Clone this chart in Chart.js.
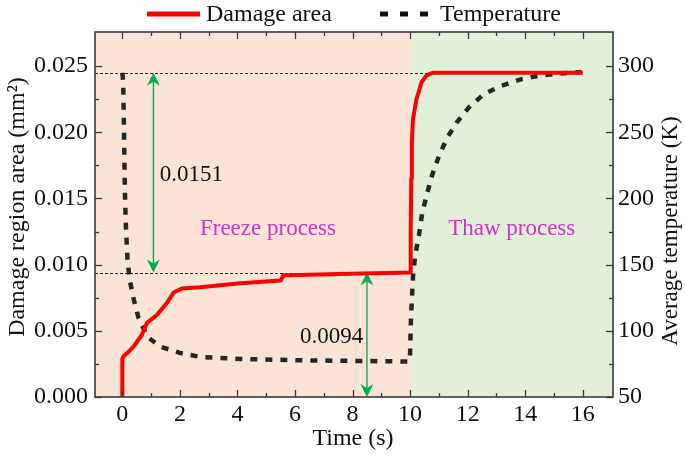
<!DOCTYPE html>
<html><head><meta charset="utf-8">
<script src="https://cdn.jsdelivr.net/npm/chart.js@4.4.1/dist/chart.umd.min.js"></script>
<style>html,body{margin:0;padding:0;background:#fff}#wrap{width:685px;height:457px;position:relative}</style>
</head><body><div id="wrap"><canvas id="c" width="685" height="457"></canvas></div>
<script>
// ---- data ----
const seriesNames = ['Damage area', 'Temperature'];
const damageTime = [0, 0, 0.05, 0.16, 0.39, 0.68, 0.86, 1.2, 1.55, 1.78, 2.07, 2.7, 4.1, 5.5, 5.6, 5.8, 7.5, 10.0, 10.02, 10.04, 10.06, 10.1, 10.22, 10.4, 10.57, 10.79, 12, 14, 16];
const damageArea = [0, 0.0029, 0.0031, 0.0033, 0.0038, 0.0047, 0.0056, 0.0062, 0.0071, 0.0079, 0.0082, 0.0083, 0.0086, 0.0088, 0.0092, 0.0092, 0.0093, 0.0094, 0.0125, 0.0165, 0.0192, 0.021, 0.0225, 0.0238, 0.0243, 0.0245, 0.0245, 0.0245, 0.0245];
const tempTime = [0, 0.03, 0.05, 0.07, 0.09, 0.115, 0.14, 0.18, 0.25, 0.4, 0.56, 0.87, 1.32, 2.0, 2.7, 4.1, 6, 8, 9.97, 10.0, 10.03, 10.1, 10.17, 10.31, 10.42, 10.6, 10.77, 11.0, 11.29, 11.64, 12.05, 12.57, 13.15, 13.84, 14.54, 15.23, 15.95];
const temperature = [295, 288, 262, 232, 205, 184, 171, 154, 139, 123.5, 110, 95.5, 88, 83.3, 80.3, 78.8, 77.8, 77.3, 76.8, 83, 110, 141, 156, 172.7, 189, 204.5, 218, 232, 246, 258, 269, 279, 285, 290, 293, 294.5, 295.5];
const xTicks = [0, 2, 4, 6, 8, 10, 12, 14, 16];
const xTickLabels = ['0', '2', '4', '6', '8', '10', '12', '14', '16'];
const areaTicks = [0, 0.005, 0.01, 0.015, 0.02, 0.025];
const areaTickLabels = ['0.000', '0.005', '0.010', '0.015', '0.020', '0.025'];
const tempTicks = [50, 100, 150, 200, 250, 300];
const tempTickLabels = ['50', '100', '150', '200', '250', '300'];
const phaseBoundary = 10;
const refLevels = [0.0245, 0.0094];
const refEnds = [10.6, 10.0];
const arrowX = [1.08, 8.5];
const arrowFrom = [0.0245, 0.0094];
const arrowTo = [0.0094, 0];
const noteTexts = ['0.0151', '0.0094', 'Freeze process', 'Thaw process'];
const noteX = [1.3, 6.17, 5.06, 13.53];
const noteY = [0.0168, 0.0045, 0.0127, 0.0127];

// ---- styles ----
const FONT = '"Liberation Serif", "Times New Roman", serif';
const RED = '#ff0000', BLACK = '#262626', GREEN = '#00b050', MAGENTA = '#cc33cc';
const FRAME = '#3a3a3a';

const decor = {
  id: 'decor',
  beforeDatasetsDraw(chart) {
    const {ctx, chartArea: a, scales: {x, y}} = chart;
    const xb = x.getPixelForValue(phaseBoundary);
    ctx.save();
    ctx.fillStyle = '#fbe4d6';
    ctx.fillRect(a.left, a.top, xb - a.left, a.bottom - a.top);
    ctx.fillStyle = '#e2f0d9';
    ctx.fillRect(xb, a.top, a.right - xb, a.bottom - a.top);
    // reference dashed lines
    ctx.setLineDash([3, 2]); ctx.lineWidth = 1.2; ctx.strokeStyle = '#222';
    refLevels.forEach((v, i) => {
      const py = Math.round(y.getPixelForValue(v)) + 0.5;
      ctx.beginPath(); ctx.moveTo(a.left, py); ctx.lineTo(x.getPixelForValue(refEnds[i]), py); ctx.stroke();
    });
    ctx.setLineDash([]);
    // arrows
    const L = 13, W = 6.5, N = 9;
    ctx.strokeStyle = GREEN; ctx.fillStyle = GREEN; ctx.lineWidth = 1.4;
    arrowX.forEach((xv, i) => {
      const px = x.getPixelForValue(xv);
      const y1 = y.getPixelForValue(arrowFrom[i]);
      const y2 = y.getPixelForValue(arrowTo[i]);
      ctx.beginPath(); ctx.moveTo(px, y1 + N); ctx.lineTo(px, y2 - N); ctx.stroke();
      ctx.beginPath(); ctx.moveTo(px, y1); ctx.lineTo(px - W, y1 + L); ctx.lineTo(px, y1 + N); ctx.lineTo(px + W, y1 + L); ctx.closePath(); ctx.fill();
      ctx.beginPath(); ctx.moveTo(px, y2); ctx.lineTo(px - W, y2 - L); ctx.lineTo(px, y2 - N); ctx.lineTo(px + W, y2 - L); ctx.closePath(); ctx.fill();
    });
    ctx.restore();
  },
  afterDatasetsDraw(chart) {
    const {ctx, chartArea: a, scales: {x, y, y1}} = chart;
    ctx.save();
    // notes
    ctx.textBaseline = 'middle';
    noteTexts.forEach((t, i) => {
      const isPhase = i >= 2;
      ctx.font = '23px ' + FONT;
      ctx.fillStyle = isPhase ? MAGENTA : '#111';
      ctx.textAlign = isPhase ? 'center' : 'left';
      ctx.fillText(t, x.getPixelForValue(noteX[i]), y.getPixelForValue(noteY[i]));
    });
    // inward ticks
    ctx.strokeStyle = FRAME; ctx.lineWidth = 1.3;
    const MAJ = 7, MIN = 4;
    const vt = (px, len) => {
      ctx.beginPath(); ctx.moveTo(px, a.bottom); ctx.lineTo(px, a.bottom - len); ctx.stroke();
      ctx.beginPath(); ctx.moveTo(px, a.top); ctx.lineTo(px, a.top + len); ctx.stroke();
    };
    for (let v = 0; v <= 16; v++) vt(Math.round(x.getPixelForValue(v)) + 0.5, v % 2 === 0 ? MAJ : MIN);
    for (let k = 0; k <= 10; k++) {
      const py = Math.round(y.getPixelForValue(k * 0.0025)) + 0.5;
      const len = k % 2 === 0 ? MAJ : MIN;
      ctx.beginPath(); ctx.moveTo(a.left, py); ctx.lineTo(a.left + len, py); ctx.stroke();
    }
    for (let k = 0; k <= 10; k++) {
      const py = Math.round(y1.getPixelForValue(50 + k * 25)) + 0.5;
      const len = k % 2 === 0 ? MAJ : MIN;
      ctx.beginPath(); ctx.moveTo(a.right, py); ctx.lineTo(a.right - len, py); ctx.stroke();
    }
    // frame
    ctx.lineWidth = 1.6;
    ctx.strokeRect(a.left, a.top, a.right - a.left, a.bottom - a.top);
    ctx.restore();
  },
  afterDraw(chart) {
    const {ctx, chartArea: a} = chart;
    const ds = chart.data.datasets;
    ctx.save();
    // legend
    ctx.font = '24px ' + FONT; ctx.fillStyle = '#111'; ctx.textBaseline = 'alphabetic'; ctx.textAlign = 'left';
    ctx.lineWidth = 5; ctx.strokeStyle = ds[0].borderColor;
    ctx.beginPath(); ctx.moveTo(147, 14); ctx.lineTo(200, 14); ctx.stroke();
    ctx.fillText(ds[0].label, 206, 21);
    ctx.strokeStyle = '#111'; ctx.setLineDash([8, 12]);
    ctx.beginPath(); ctx.moveTo(380, 14); ctx.lineTo(430, 14); ctx.stroke();
    ctx.setLineDash([]);
    ctx.fillText(ds[1].label, 440, 21);
    // axis titles
    ctx.textAlign = 'center'; ctx.textBaseline = 'middle';
    ctx.font = '24px ' + FONT;
    ctx.fillText('Time (s)', 353, 439);
    ctx.save(); ctx.translate(18, 207); ctx.rotate(-Math.PI / 2);
    ctx.fillText('Damage region area (mm\u00B2)', 0, 0); ctx.restore();
    ctx.font = '23px ' + FONT;
    ctx.save(); ctx.translate(671, 231); ctx.rotate(-Math.PI / 2);
    ctx.fillText('Average temperature (K)', 0, 0); ctx.restore();
    ctx.restore();
  }
};

const fixTicks = (vals) => (s) => { s.ticks = vals.map(v => ({value: v})); };
const tickFont = {family: FONT, size: 24};

new Chart(document.getElementById('c'), {
  type: 'line',
  data: {
    datasets: [
      {label: seriesNames[0], data: damageTime.map((t, i) => ({x: t, y: damageArea[i]})), yAxisID: 'y',
       borderColor: RED, borderWidth: 4, pointRadius: 0, tension: 0, borderJoinStyle: 'round', fill: false},
      {label: seriesNames[1], data: tempTime.map((t, i) => ({x: t, y: temperature[i]})), yAxisID: 'y1',
       borderColor: BLACK, borderWidth: 4.5, borderDash: [7, 8], pointRadius: 0, tension: 0, fill: false}
    ]
  },
  options: {
    responsive: false, animation: false, devicePixelRatio: 1,
    layout: {padding: {top: 32, left: 0, right: 0, bottom: 0}},
    plugins: {legend: {display: false}, tooltip: {enabled: false}},
    scales: {
      x: {type: 'linear', min: -0.95, max: 17.05, afterBuildTicks: fixTicks(xTicks),
          afterFit: s => { s.height = 60; },
          grid: {display: false, drawTicks: false}, border: {display: false},
          ticks: {font: tickFont, color: '#111', padding: 3, maxRotation: 0, autoSkip: false,
                  callback: (v, i) => xTickLabels[i]}},
      y: {type: 'linear', position: 'left', min: 0, max: 0.02758, afterBuildTicks: fixTicks(areaTicks),
          afterFit: s => { s.width = 95; },
          grid: {display: false, drawTicks: false}, border: {display: false},
          ticks: {font: tickFont, color: '#111', padding: 7, autoSkip: false, callback: (v, i) => areaTickLabels[i]}},
      y1: {type: 'linear', position: 'right', min: 50, max: 325.8, afterBuildTicks: fixTicks(tempTicks),
          afterFit: s => { s.width = 72; },
          grid: {display: false, drawTicks: false}, border: {display: false},
          ticks: {font: tickFont, color: '#111', padding: 5, autoSkip: false, callback: (v, i) => tempTickLabels[i]}}
    }
  },
  plugins: [decor]
});
</script></body></html>
